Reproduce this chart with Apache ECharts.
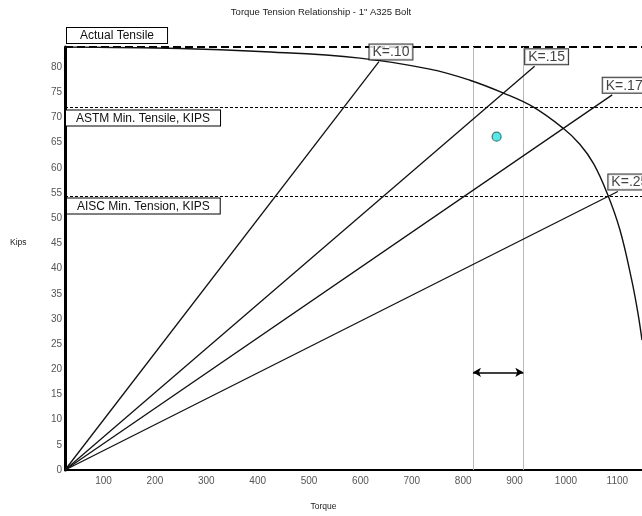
<!DOCTYPE html>
<html>
<head>
<meta charset="utf-8">
<script src="https://cdn.jsdelivr.net/npm/echarts@6/dist/echarts.min.js"></script>
<style>
html,body{margin:0;padding:0;background:#fff;}
#chart{width:642px;height:516px;}
</style>
</head>
<body>
<div id="chart"></div>
<script>
// ---- data ----
const torqueTicks = [100, 200, 300, 400, 500, 600, 700, 800, 900, 1000, 1100];
const kipsTicks = [0, 5, 10, 15, 20, 25, 30, 35, 40, 45, 50, 55, 60, 65, 70, 75, 80];
const torqueMin = 25;
const torqueMax = 1148;
const kipsMax = 84;

// actual bolt curve
const curveTorque = [25, 249, 404, 599, 735, 813, 877, 936, 994, 1027, 1054, 1080, 1105, 1128, 1140, 1148];
const curveKips   = [84, 83.7, 83.1, 81.8, 79.6, 77.4, 74.9, 72.1, 67.9, 64.7, 60.8, 55.0, 47.7, 37.7, 31.2, 25.8];

// K-factor lines (from origin to end point)
const kNames     = ['K=.10', 'K=.15', 'K=.17', 'K=.25'];
const kEndTorque = [636, 939, 1090, 1101];
const kEndKips   = [81.1, 80.2, 74.5, 55.3];

// horizontal limits
const limitNames = ['Actual Tensile', 'ASTM Min. Tensile, KIPS', 'AISC Min. Tension, KIPS'];
const limitKips  = [84, 72, 54.3];

// torque range (vertical lines + arrow)
const rangeTorque = [819, 917];
const arrowKips = 19.4;

// measured point
const pointTorque = [865];
const pointKips   = [66.2];

// ---- chart ----
const FONT = 'Arial, "Liberation Sans", sans-serif';
const chart = echarts.init(document.getElementById('chart'), null, {renderer: 'canvas'});

const curveData = curveTorque.map((t, i) => [t, curveKips[i]]);

const limitStyles = [
  {type: [8, 4], width: 2, color: '#000'},
  {type: [3, 2], width: 1.2, color: '#000'},
  {type: [3, 2], width: 1.2, color: '#000'}
];
const limitLabelPos = ['insideStartTop', 'insideStartBottom', 'insideStartBottom'];
const limitLabelDist = [[2, 4], [1, 3], [2, 2]];
const limitLabelPad = [[2, 13, 1, 13], [2, 10, 1, 10], [2, 10, 1, 10]];

const markData = limitNames.map((n, i) => ({
  name: n,
  yAxis: limitKips[i],
  lineStyle: limitStyles[i],
  label: {
    show: true,
    formatter: '{b}',
    position: limitLabelPos[i],
    distance: limitLabelDist[i],
    color: '#111',
    fontSize: 12,
    fontFamily: FONT,
    backgroundColor: '#fff',
    borderColor: '#000',
    borderWidth: 1,
    padding: limitLabelPad[i]
  }
}));
rangeTorque.forEach(t => markData.push({
  xAxis: t,
  lineStyle: {type: 'solid', width: 1, color: '#b8b8b8'},
  label: {show: false}
}));
markData.push([
  {coord: [rangeTorque[0], arrowKips], symbol: 'arrow', lineStyle: {type: 'solid', width: 1.5, color: '#000'}, label: {show: false}},
  {coord: [rangeTorque[1], arrowKips], symbol: 'arrow'}
]);

const series = [
  {
    name: 'Actual',
    type: 'line',
    data: curveData,
    smooth: 0.4,
    symbol: 'none',
    lineStyle: {color: '#111', width: 1.4},
    z: 3,
    markLine: {
      silent: true,
      symbol: 'none',
      symbolSize: [7, 8],
      animation: false,
      data: markData,
      z: 2
    }
  }
];

kNames.forEach((n, i) => {
  series.push({
    name: n,
    type: 'line',
    data: [[torqueMin, 0], [kEndTorque[i], kEndKips[i]]],
    symbol: 'none',
    lineStyle: {color: '#111', width: 1.3},
    z: 3
  });
});

series.push({
  name: 'K labels',
  type: 'scatter',
  data: kEndTorque.map((t, i) => [t, kEndKips[i]]),
  symbolSize: 2,
  itemStyle: {color: 'rgba(0,0,0,0)'},
  z: 10,
  label: {
    show: true,
    formatter: p => kNames[p.dataIndex],
    position: 'top',
    distance: 1,
    offset: [12, 0],
    color: '#111',
    fontSize: 14,
    fontFamily: FONT,
    backgroundColor: '#fff',
    borderColor: '#000',
    borderWidth: 1,
    padding: [1, 3, 0, 3]
  }
});

series.push({
  name: 'Point',
  type: 'scatter',
  data: pointTorque.map((t, i) => [t, pointKips[i]]),
  symbolSize: 9,
  itemStyle: {color: '#2fe0e0', borderColor: '#1a6060', borderWidth: 1.2},
  z: 11
});

chart.setOption({
  animation: false,
  backgroundColor: '#fff',
  title: [
    {
      text: 'Torque Tension Relationship - 1" A325 Bolt',
      left: 'center',
      top: 7,
      padding: 0,
      textStyle: {fontSize: 9.5, fontWeight: 'normal', color: '#222', fontFamily: FONT}
    },
    {
      text: 'Kips',
      left: 10,
      top: 238,
      padding: 0,
      textStyle: {fontSize: 8.5, fontWeight: 'normal', color: '#222', fontFamily: FONT}
    }
  ],
  grid: {left: 65, right: 0, top: 47, bottom: 46},
  xAxis: {
    type: 'value',
    min: torqueMin,
    max: torqueMax,
    name: 'Torque',
    nameLocation: 'middle',
    nameGap: 32,
    nameTextStyle: {fontSize: 8.5, color: '#222', fontFamily: FONT, padding: [0, 60, 0, 0]},
    axisLine: {show: true, lineStyle: {color: '#000', width: 2}},
    axisTick: {show: false},
    splitLine: {show: false},
    axisLabel: {customValues: torqueTicks, formatter: v => String(v), color: '#555', fontSize: 10, margin: 6, fontFamily: FONT}
  },
  yAxis: {
    type: 'value',
    min: 0,
    max: kipsMax,
    axisLine: {show: true, lineStyle: {color: '#000', width: 3}},
    axisTick: {show: false},
    splitLine: {show: false},
    axisLabel: {customValues: kipsTicks, formatter: v => String(v), color: '#555', fontSize: 10, margin: 3, fontFamily: FONT}
  },
  series: series
});
</script>
</body>
</html>
